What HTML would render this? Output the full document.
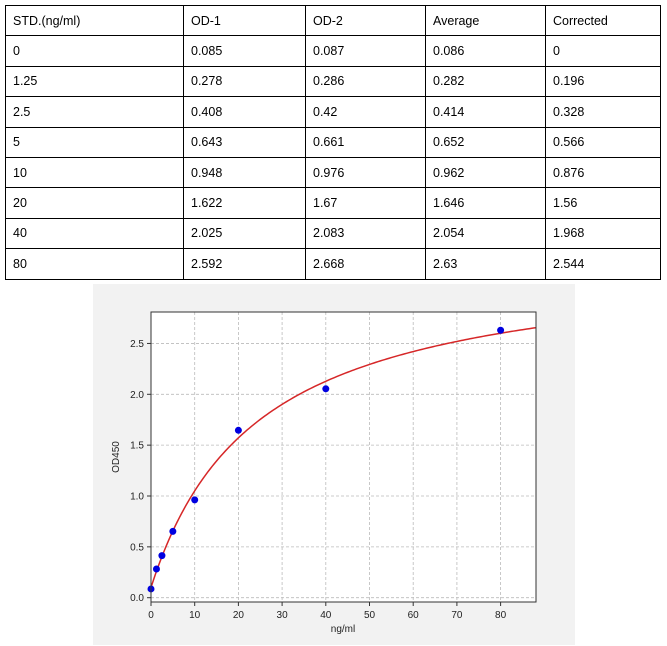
<!DOCTYPE html>
<html><head><meta charset="utf-8"><style>
body{margin:0;background:#fff;width:667px;height:646px;position:relative;font-family:"Liberation Sans",sans-serif;}
table{position:absolute;left:5px;top:5px;border-collapse:collapse;font-size:12.5px;color:#000;}
td{border:1px solid #000;height:30.4px;padding:0 0 0 7px;box-sizing:border-box;}
</style></head><body>
<table>
<tr><td style="width:178px">STD.(ng/ml)</td><td style="width:122px">OD-1</td><td style="width:120px">OD-2</td><td style="width:120px">Average</td><td style="width:115px">Corrected</td></tr>
<tr><td>0</td><td>0.085</td><td>0.087</td><td>0.086</td><td>0</td></tr>
<tr><td>1.25</td><td>0.278</td><td>0.286</td><td>0.282</td><td>0.196</td></tr>
<tr><td>2.5</td><td>0.408</td><td>0.42</td><td>0.414</td><td>0.328</td></tr>
<tr><td>5</td><td>0.643</td><td>0.661</td><td>0.652</td><td>0.566</td></tr>
<tr><td>10</td><td>0.948</td><td>0.976</td><td>0.962</td><td>0.876</td></tr>
<tr><td>20</td><td>1.622</td><td>1.67</td><td>1.646</td><td>1.56</td></tr>
<tr><td>40</td><td>2.025</td><td>2.083</td><td>2.054</td><td>1.968</td></tr>
<tr><td>80</td><td>2.592</td><td>2.668</td><td>2.63</td><td>2.544</td></tr>
</table>
<svg id="s" width="667" height="646" style="position:absolute;left:0;top:0" font-family="Liberation Sans, sans-serif">
<rect x="93" y="284" width="482" height="361" fill="#f2f2f2"/>
<rect x="151" y="312" width="385" height="290" fill="#fff"/>
</svg>
<script>
var s=document.getElementById('s');
function X(v){return 151+v*4.37}function Y(v){return 597.7-v*101.7}
var h='';
for(var i=0;i<=80;i+=10){var x=X(i);h+='<line x1="'+x+'" y1="312" x2="'+x+'" y2="602" stroke="#bbb" stroke-dasharray="3,2" stroke-width="0.8"/>';
h+='<line x1="'+x+'" y1="602" x2="'+x+'" y2="606" stroke="#333"/><text x="'+x+'" y="618" font-size="10" text-anchor="middle" fill="#222">'+i+'</text>';}
for(var j=0;j<=5;j++){var v=j*0.5,y=Y(v);h+='<line x1="151" y1="'+y+'" x2="536" y2="'+y+'" stroke="#bbb" stroke-dasharray="3,2" stroke-width="0.8"/>';
h+='<line x1="147" y1="'+y+'" x2="151" y2="'+y+'" stroke="#333"/><text x="144" y="'+(y+3.5)+'" font-size="10" text-anchor="end" fill="#222">'+v.toFixed(1)+'</text>';}
var p='';for(var x=0;x<=88;x+=0.5){var yv=0.1+3.26*x/(24.3+x);p+=X(x)+','+Y(yv)+' ';}
h+='<polyline points="'+p+'" fill="none" stroke="#d62728" stroke-width="1.5"/>';
var d=[[0,0.086],[1.25,0.282],[2.5,0.414],[5,0.652],[10,0.962],[20,1.646],[40,2.054],[80,2.63]];
d.forEach(function(q){h+='<circle cx="'+X(q[0])+'" cy="'+Y(q[1])+'" r="3.5" fill="#0000e0"/>';});
h+='<rect x="151" y="312" width="385" height="290" fill="none" stroke="#333"/>';
h+='<text x="343" y="632" font-size="10" text-anchor="middle" fill="#222">ng/ml</text>';
h+='<text transform="translate(119,457) rotate(-90)" font-size="10" text-anchor="middle" fill="#222">OD450</text>';
s.insertAdjacentHTML('beforeend',h);
</script>
</body></html>
